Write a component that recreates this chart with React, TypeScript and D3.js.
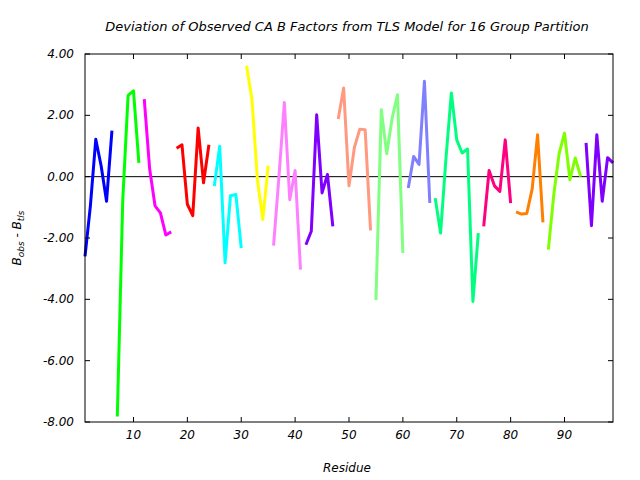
import React from "react";
import * as d3 from "d3";

const title = "Deviation of Observed CA B Factors from TLS Model for 16 Group Partition";
const xLabel = "Residue";

const xTicks = [10, 20, 30, 40, 50, 60, 70, 80, 90];
const yTicks = [-8, -6, -4, -2, 0, 2, 4];

const groupStarts = [1, 7, 12, 18, 25, 31, 36, 42, 48, 55, 61, 66, 75, 81, 87, 94];
const groupColors = [
  "#0000ff", "#00ff00", "#ff00ff", "#ff0000", "#00ffff", "#ffff00", "#ff80ff", "#8000ff",
  "#ff9980", "#80ff80", "#8080ff", "#00ff80", "#ff0080", "#ff8000", "#80ff00", "#8000ff",
];

const g1 = [-2.6, -0.95, 1.22, 0.35, -0.8, 1.5];
const g2 = [-7.82, -0.8, 2.65, 2.8, 0.45];
const g3 = [2.53, 0.25, -0.95, -1.18, -1.9, -1.8];
const g4 = [0.93, 1.04, -0.9, -1.27, 1.59, -0.2, 1.04];
const g5 = [-0.31, 0.99, -2.81, -0.62, -0.58, -2.33];
const g6 = [3.62, 2.5, -0.1, -1.4, 0.36];
const g7 = [-2.25, 0.0, 2.42, -0.75, 0.2, -3.03];
const g8 = [-2.22, -1.78, 2.02, -0.53, 0.07, -1.62];
const g9 = [1.88, 2.89, -0.3, 0.95, 1.55, 1.53, -1.75];
const g10 = [-4.02, 2.18, 0.75, 1.9, 2.67, -2.49];
const g11 = [-0.37, 0.66, 0.4, 3.11, -0.86];
const g12 = [-0.7, -1.84, 0.6, 2.73, 1.2, 0.77, 0.9, -4.07, -1.84];
const g13 = [-1.62, 0.2, -0.3, -0.48, 1.2, -0.86];
const g14 = [-1.15, -1.22, -1.2, -0.4, 1.37, -1.49];
const g15 = [-2.38, -0.6, 0.75, 1.42, -0.1, 0.61, 0.0];
const g16 = [1.1, -1.6, 1.37, -0.8, 0.62, 0.45];

const groupValues = [g1, g2, g3, g4, g5, g6, g7, g8, g9, g10, g11, g12, g13, g14, g15, g16];

const W = 640;
const H = 480;
const left = 85;
const right = 613;
const top = 54;
const bottom = 422;
const FONT = "'DejaVu Sans', Verdana, sans-serif";

export default function App() {
  const x = d3.scaleLinear().domain([1, 99]).range([left, right]);
  const y = d3.scaleLinear().domain([-8, 4]).range([bottom, top]);
  const line = d3
    .line<[number, number]>()
    .x((d) => x(d[0]))
    .y((d) => y(d[1]));

  const series = groupValues.map((vals, gi) =>
    vals.map((v, i) => [groupStarts[gi] + i, v] as [number, number])
  );

  const tickLen = 5;

  return (
    <svg
      width={W}
      height={H}
      style={{ position: "absolute", left: 0, top: 0, background: "#fff" }}
      fontFamily={FONT}
    >
      <rect x={0} y={0} width={W} height={H} fill="#fff" />
      <text x={347} y={31} textAnchor="middle" fontSize={13} fontStyle="italic" fill="#000">
        {title}
      </text>

      {/* zero line */}
      <line x1={left} x2={right} y1={y(0)} y2={y(0)} stroke="#000" strokeWidth={1} />

      {/* data */}
      {series.map((s, i) => (
        <path
          key={i}
          d={line(s) || ""}
          fill="none"
          stroke={groupColors[i]}
          strokeWidth={3}
          strokeLinejoin="round"
        />
      ))}

      {/* frame */}
      <rect x={left} y={top} width={right - left} height={bottom - top} fill="none" stroke="#000" strokeWidth={1} />

      {/* x ticks */}
      {xTicks.map((t) => (
        <g key={"x" + t}>
          <line x1={x(t)} x2={x(t)} y1={bottom} y2={bottom - tickLen} stroke="#000" />
          <line x1={x(t)} x2={x(t)} y1={top} y2={top + tickLen} stroke="#000" />
          <text x={x(t)} y={439} textAnchor="middle" fontSize={12} fontStyle="italic" fill="#000">
            {String(t)}
          </text>
        </g>
      ))}

      {/* y ticks */}
      {yTicks.map((t) => (
        <g key={"y" + t}>
          <line x1={left} x2={left + tickLen} y1={y(t)} y2={y(t)} stroke="#000" />
          <line x1={right} x2={right - tickLen} y1={y(t)} y2={y(t)} stroke="#000" />
          <text x={74} y={y(t) + 4} textAnchor="end" fontSize={12} fontStyle="italic" fill="#000">
            {t.toFixed(2)}
          </text>
        </g>
      ))}

      <text x={347} y={472} textAnchor="middle" fontSize={12} fontStyle="italic" fill="#000">
        {xLabel}
      </text>

      <text
        transform={`translate(21, ${(top + bottom) / 2}) rotate(-90)`}
        textAnchor="middle"
        fontSize={12}
        fontStyle="italic"
        fill="#000"
      >
        B<tspan fontSize={9} dy={3}>obs</tspan>
        <tspan dy={-3}> - B</tspan>
        <tspan fontSize={9} dy={3}>tls</tspan>
      </text>
    </svg>
  );
}
